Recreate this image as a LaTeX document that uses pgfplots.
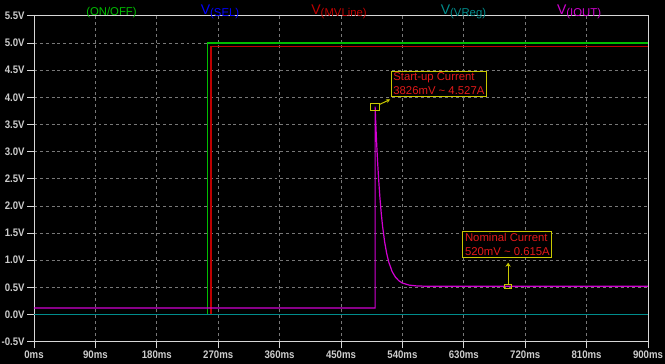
\documentclass[border=0pt]{standalone}
\usepackage{pgfplots}
\pgfplotsset{compat=1.18}
\usepackage{fontspec}
\setmainfont{Liberation Sans}
\newfontfamily\tickfont[FakeStretch=0.88]{Liberation Sans}
\usetikzlibrary{arrows.meta}
\definecolor{cgreen}{RGB}{0,190,0}
\definecolor{cblue}{RGB}{0,0,255}
\definecolor{cred}{RGB}{190,0,0}
\definecolor{cteal}{RGB}{0,140,140}
\definecolor{cmag}{RGB}{210,0,210}
\definecolor{cyel}{RGB}{200,200,0}
\definecolor{ctxt}{RGB}{205,205,205}
\definecolor{cgrid}{RGB}{120,120,120}
\definecolor{cannot}{RGB}{225,25,25}
\begin{document}
\begin{tikzpicture}[x=1pt,y=1pt]
\fill[black] (0,0) rectangle (498.75,273);
\useasboundingbox (0,0) rectangle (498.75,273);
\begin{axis}[
  at={(25.5pt,16.7pt)}, anchor=south west,
  scale only axis, width=460.5pt, height=244.5pt,
  xmin=0, xmax=900, ymin=-0.5, ymax=5.5,
  axis line style={draw=ctxt!80, line width=0.6pt},
  xtick={0,90,180,270,360,450,540,630,720,810,900},
  xticklabels={0ms,90ms,180ms,270ms,360ms,450ms,540ms,630ms,720ms,810ms,900ms},
  ytick={-0.5,0,0.5,1,1.5,2,2.5,3,3.5,4,4.5,5,5.5},
  yticklabels={-0.5V,0.0V,0.5V,1.0V,1.5V,2.0V,2.5V,3.0V,3.5V,4.0V,4.5V,5.0V,5.5V},
  tick align=outside, tick pos=left,
  major tick length=5pt,
  tick style={draw=ctxt!80, line width=0.6pt},
  ticklabel style={font=\tickfont\bfseries\fontsize{8.2}{9}\selectfont, text=ctxt},
  xticklabel style={yshift=1.5pt},
  yticklabel style={xshift=1.5pt},
  grid=major,
  major grid style={draw=cgrid, dash pattern=on 2.2pt off 2.2pt, line width=0.6pt},
  clip=false,
]
% ON/OFF
\addplot[cgreen, line width=0.9pt] coordinates {(0,0) (254,0) (254,5.0) (900,5.0)};
% SEL
\addplot[cblue, line width=0.9pt] coordinates {(0,0) (900,0)};
% MVLine
\addplot[cred, line width=0.9pt] coordinates {(0,0) (259.5,0) (259.5,4.93) (900,4.93)};
% VReg
\addplot[cteal, line width=0.9pt] coordinates {(0,0) (900,0)};
% IOUT
\addplot[cmag, line width=0.9pt] coordinates {
(0,0.12) (500,0.12) (500,3.826) (501,3.511) (502,3.227) (503,2.969) (504,2.736)
(505,2.525) (507,2.162) (509,1.864) (511,1.621) (514,1.335) (517,1.124)
(520,0.967) (525,0.791) (530,0.685) (535,0.620) (540,0.580) (550,0.542)
(560,0.528) (575,0.521) (600,0.520) (900,0.520)};
% cursors
\addplot[cyel, only marks, mark=square, mark size=3.2pt, mark options={yscale=0.78, line width=0.75pt}] coordinates {(500,3.826)};
\addplot[cyel, only marks, mark=square, mark size=2.8pt, mark options={yscale=0.55, line width=0.75pt}] coordinates {(695,0.52)};
\draw[cyel, line width=0.75pt, -{Stealth[length=3pt,width=3pt]}] (axis cs:507,3.87) -- (axis cs:522,3.96);
\draw[cyel, line width=0.75pt, -{Stealth[length=3pt,width=4pt]}] (axis cs:695,0.56) -- (axis cs:695,0.955);
\node[draw=cyel, fill=black, line width=0.75pt, anchor=north west, inner xsep=1.6pt, inner ysep=1.2pt, align=left,
  text=cannot, font=\fontsize{8.5}{10.5}\selectfont] at (axis cs:522.9,4.49)
  {Start-up Current\\3826mV \textasciitilde{} 4.527A};
\node[draw=cyel, fill=black, line width=0.75pt, anchor=north west, inner xsep=1.6pt, inner ysep=1.2pt, align=left,
  text=cannot, font=\fontsize{8.5}{10.5}\selectfont] at (axis cs:628,1.53)
  {Nominal Current\\520mV \textasciitilde{} 0.615A};
\end{axis}
% top labels
\node[text=cgreen, font=\fontsize{8.5}{9}\selectfont] at (83.6,263.5) {(ON/OFF)};
\node[text=cblue] at (165,264) {{\fontsize{10.5}{11}\selectfont V}\raisebox{-1.5pt}{\fontsize{8.5}{9}\selectfont (SEL)}};
\node[text=cred] at (254.3,264) {{\fontsize{10.5}{11}\selectfont V}\raisebox{-1.5pt}{\fontsize{8.5}{9}\selectfont (MVLine)}};
\node[text=cteal] at (347.6,264) {{\fontsize{10.5}{11}\selectfont V}\raisebox{-1.5pt}{\fontsize{8.5}{9}\selectfont (VReg)}};
\node[text=cmag] at (434.3,264) {{\fontsize{10.5}{11}\selectfont V}\raisebox{-1.5pt}{\fontsize{8.5}{9}\selectfont (IOUT)}};
\end{tikzpicture}
\end{document}
